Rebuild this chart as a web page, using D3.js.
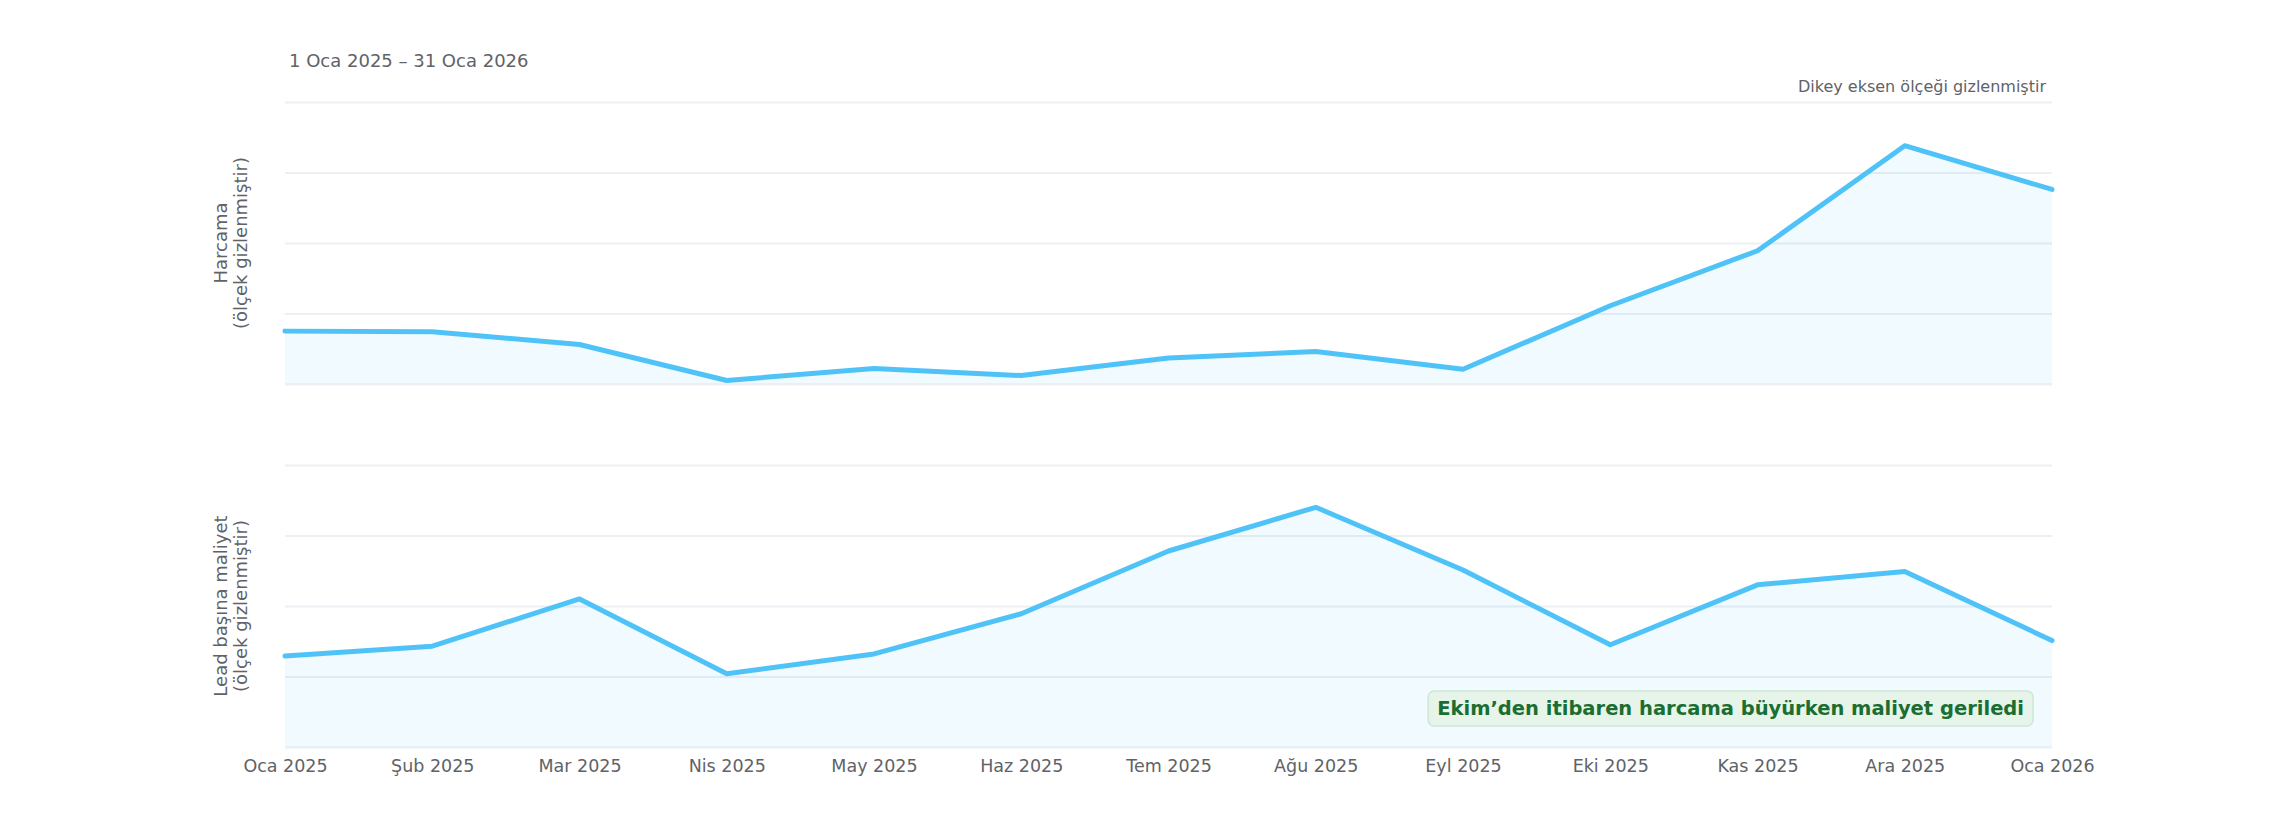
<!DOCTYPE html>
<html>
<head>
<meta charset="utf-8">
<script src="https://cdn.jsdelivr.net/npm/d3@7"></script>
<style>
  body { margin: 0; background: #fff; font-family: "DejaVu Sans", sans-serif; }
  .grid line { stroke: #eceff3; stroke-width: 2; }
  .grid .domain { display: none; }
  .xaxis .domain { display: none; }
  .xaxis text { fill: #5f6368; font-size: 17.5px; font-family: "DejaVu Sans", sans-serif; }
</style>
</head>
<body>
<div id="chart"></div>
<script>
// Data (vertical scale is hidden in the original, values in grid units)
var months = ["Oca 2025", "Şub 2025", "Mar 2025", "Nis 2025", "May 2025", "Haz 2025",
              "Tem 2025", "Ağu 2025", "Eyl 2025", "Eki 2025", "Kas 2025", "Ara 2025", "Oca 2026"];
var spendValues = [0.75, 0.74, 0.56, 0.05, 0.22, 0.12, 0.37, 0.46, 0.21, 1.11, 1.89, 3.38, 2.76];
var cplValues = [1.29, 1.43, 2.10, 1.04, 1.32, 1.89, 2.78, 3.40, 2.51, 1.45, 2.30, 2.49, 1.51];
var gridTicks = [0, 1, 2, 3, 4];
var panelTitles = [["Harcama", "(ölçek gizlenmiştir)"], ["Lead başına maliyet", "(ölçek gizlenmiştir)"]];
var dateRange = "1 Oca 2025 – 31 Oca 2026";
var scaleNote = "Dikey eksen ölçeği gizlenmiştir";
var noteText = "Ekim’den itibaren harcama büyürken maliyet geriledi";

var svgWidth = 2280;
var svgHeight = 840;
var margin = { left: 285, right: 228 };
var chartWidth = svgWidth - margin.left - margin.right;

// two stacked panels
var panels = [
  { top: 102, height: 282, values: spendValues, label: panelTitles[0] },
  { top: 465, height: 282, values: cplValues, label: panelTitles[1] }
];

var svg = d3.select("#chart")
  .append("svg")
  .attr("width", svgWidth)
  .attr("height", svgHeight);

var xScale = d3.scalePoint()
  .domain(months)
  .range([0, chartWidth]);

var lineColor = "#4fc3f7";

panels.forEach((p, idx) => {
  var g = svg.append("g")
    .attr("transform", `translate(${margin.left}, ${p.top})`);

  var yScale = d3.scaleLinear()
    .domain([0, 4])
    .range([p.height, 0]);

  // gridlines, no labels
  g.append("g")
    .classed("grid", true)
    .call(d3.axisLeft(yScale).tickValues(gridTicks).tickSize(-chartWidth).tickFormat(""));

  var area = d3.area()
    .x((d, i) => xScale(months[i]))
    .y0(yScale(0))
    .y1(d => yScale(d));

  var line = d3.line()
    .x((d, i) => xScale(months[i]))
    .y(d => yScale(d));

  g.append("path")
    .datum(p.values)
    .attr("d", area)
    .attr("fill", lineColor)
    .attr("fill-opacity", 0.08);

  g.append("path")
    .datum(p.values)
    .attr("d", line)
    .attr("fill", "none")
    .attr("stroke", lineColor)
    .attr("stroke-width", 5)
    .attr("stroke-linejoin", "round")
    .attr("stroke-linecap", "round");

  // rotated axis title
  var title = g.append("text")
    .attr("transform", `translate(-54, ${p.height / 2}) rotate(-90)`)
    .attr("text-anchor", "middle")
    .attr("fill", "#5f6368")
    .attr("font-size", 18);
  title.append("tspan").attr("x", 0).attr("dy", "-0.25em").text(p.label[0]);
  title.append("tspan").attr("x", 0).attr("dy", "1.15em").text(p.label[1]);

  if (idx === 1) {
    g.append("g")
      .classed("xaxis", true)
      .attr("transform", `translate(0, ${p.height})`)
      .call(d3.axisBottom(xScale).tickSize(0).tickPadding(13));

    // annotation box
    var note = g.append("g");
    var noteLabel = note.append("text")
      .attr("x", chartWidth - 28)
      .attr("y", 243)
      .attr("dy", "0.35em")
      .attr("text-anchor", "end")
      .attr("font-size", 19.5)
      .attr("font-weight", "bold")
      .attr("fill", "#1b6e31")
      .text(noteText);
    var bb = noteLabel.node().getBBox();
    note.insert("rect", "text")
      .attr("x", bb.x - 9)
      .attr("y", 226)
      .attr("width", bb.width + 18)
      .attr("height", 35)
      .attr("rx", 6)
      .attr("fill", "#e6f4ea")
      .attr("stroke", "#cde8d3")
      .attr("stroke-width", 1.5);
  }
});

svg.append("text")
  .attr("x", 289)
  .attr("y", 67)
  .attr("fill", "#5f6368")
  .attr("font-size", 18)
  .text(dateRange);

svg.append("text")
  .attr("x", 2046)
  .attr("y", 92)
  .attr("text-anchor", "end")
  .attr("fill", "#5f6368")
  .attr("font-size", 16)
  .text(scaleNote);
</script>
</body>
</html>
